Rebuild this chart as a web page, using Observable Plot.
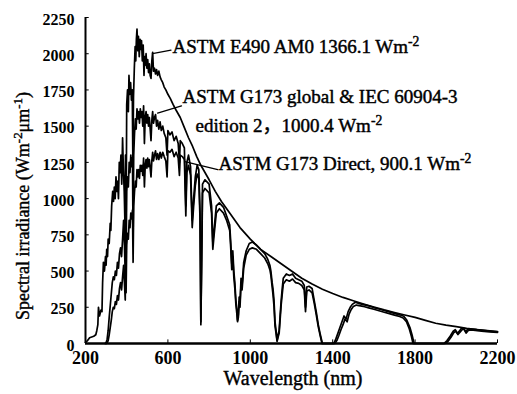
<!DOCTYPE html>
<html><head><meta charset="utf-8">
<script src="https://cdn.jsdelivr.net/npm/d3@7"></script>
<script src="https://cdn.jsdelivr.net/npm/@observablehq/plot@0.6"></script>
<style>html,body{margin:0;padding:0;background:#fff} svg{display:block}</style>
</head><body><div id="chart"></div>
<script>
// ---- data (wavelength nm, spectral irradiance W m^-2 um^-1) ----
const am0 = [[200,8],[210,20],[220,40],[230,45],[240,50],[250,60],[255,90],[260,130],[263,250],[268,190],[275,230],[280,220],[283,420],[287,560],[292,500],[297,600],[300,540],[303,650],[307,600],[310,720],[315,690],[320,830],[323,780],[327,950],[332,1050],[336,980],[340,1080],[344,1000],[348,1150],[352,1050],[356,1120],[360,1000],[364,1250],[368,1180],[372,1300],[376,1100],[380,1420],[384,1200],[388,1050],[392,800],[394,1300],[397,750],[400,1650],[404,1750],[408,1600],[411,1850],[415,1720],[419,1800],[423,1680],[427,1750],[430,1250],[433,1700],[437,1900],[441,2050],[444,1950],[447,2100],[450,2170],[454,2020],[457,2120],[461,1980],[465,2100],[468,2030],[472,2090],[476,1950],[480,2060],[484,1850],[487,1980],[490,1920],[494,2000],[498,1900],[502,1960],[506,1870],[510,1930],[514,1850],[518,1830],[522,1950],[526,2010],[530,1880],[535,1900],[540,1860],[545,1890],[550,1850],[556,1880],[562,1840],[568,1820],[575,1800],[582,1770],[590,1750],[600,1720],[612,1690],[625,1650],[640,1610],[660,1560],[680,1490],[700,1420],[720,1360],[740,1290],[760,1230],[780,1180],[800,1130],[830,1050],[860,980],[900,900],[950,800],[1000,720],[1050,650],[1100,600],[1150,550],[1200,500],[1250,450],[1300,410],[1350,375],[1400,345],[1450,318],[1500,295],[1550,273],[1600,252],[1650,232],[1700,214],[1750,197],[1800,180],[1850,160],[1900,140],[1950,127],[2000,116],[2050,105],[2100,96],[2150,89],[2200,83]];

const g173Global = [[295,0],[300,5],[305,30],[310,90],[315,180],[320,260],[325,340],[330,420],[335,460],[340,440],[345,500],[350,470],[355,560],[360,520],[365,620],[370,660],[375,600],[380,720],[385,850],[389,680],[393,480],[395,900],[397,560],[400,1050],[404,1150],[408,1080],[412,1250],[416,1180],[420,1300],[424,1220],[428,1280],[431,700],[434,1300],[438,1450],[442,1550],[446,1480],[450,1620],[454,1550],[458,1600],[462,1520],[466,1620],[470,1560],[474,1600],[478,1500],[482,1640],[486,1380],[490,1560],[494,1600],[498,1520],[502,1580],[506,1500],[510,1560],[514,1480],[518,1400],[522,1540],[526,1600],[530,1520],[535,1560],[540,1580],[545,1500],[550,1540],[556,1480],[562,1530],[568,1470],[575,1500],[582,1450],[590,1420],[596,1300],[600,1470],[610,1440],[620,1460],[630,1400],[640,1430],[650,1380],[656,1250],[660,1400],[670,1380],[680,1350],[687,950],[692,1250],[700,1300],[710,1220],[718,850],[725,1000],[733,1150],[742,1230],[750,1200],[756,900],[760,150],[764,600],[768,1100],[780,1130],[800,1100],[812,950],[818,700],[825,800],[835,950],[850,970],[870,940],[885,880],[900,820],[905,700],[910,550],[915,640],[920,500],[925,420],[930,300],[935,230],[938,160],[942,200],[946,320],[950,280],[955,450],[960,400],[968,560],[980,640],[995,690],[1010,700],[1030,680],[1050,650],[1070,620],[1085,580],[1095,540],[1100,500],[1106,420],[1110,380],[1115,300],[1120,150],[1125,90],[1130,20],[1135,60],[1140,90],[1145,200],[1150,300],[1155,380],[1160,450],[1175,480],[1190,470],[1205,480],[1220,450],[1235,440],[1250,430],[1262,400],[1268,250],[1274,390],[1285,395],[1300,380],[1310,300],[1320,220],[1330,130],[1340,60],[1350,0],[1405,0],[1415,30],[1425,70],[1435,110],[1445,150],[1455,190],[1465,170],[1475,220],[1485,250],[1495,270],[1510,285],[1530,275],[1550,268],[1575,260],[1600,248],[1625,238],[1650,228],[1675,218],[1700,208],[1725,198],[1745,188],[1760,160],[1775,110],[1785,60],[1795,0],[1940,0],[1955,20],[1970,50],[1985,85],[1995,95],[2005,70],[2015,85],[2025,105],[2035,108],[2045,80],[2055,98],[2070,100],[2090,97],[2120,92],[2160,86],[2200,80]];

const g173Direct = [[300,0],[305,5],[310,20],[315,60],[320,110],[325,160],[330,220],[335,250],[340,240],[345,290],[350,270],[355,330],[360,300],[365,380],[370,420],[375,370],[380,460],[385,540],[389,420],[393,300],[395,580],[397,350],[400,680],[404,760],[408,720],[412,850],[416,800],[420,900],[424,860],[428,920],[431,560],[434,950],[438,1050],[442,1120],[446,1080],[450,1200],[454,1150],[458,1200],[462,1140],[466,1230],[470,1190],[474,1230],[478,1160],[482,1280],[486,1080],[490,1230],[494,1270],[498,1210],[502,1280],[506,1220],[510,1270],[514,1210],[518,1150],[522,1260],[526,1320],[530,1260],[535,1300],[540,1330],[545,1270],[550,1310],[556,1270],[562,1320],[568,1280],[575,1320],[582,1290],[590,1260],[596,1150],[600,1330],[610,1320],[620,1340],[630,1290],[640,1320],[650,1280],[656,1160],[660,1300],[670,1290],[680,1270],[687,880],[692,1180],[700,1230],[710,1160],[718,800],[725,950],[733,1090],[742,1170],[750,1140],[756,850],[760,130],[764,550],[768,1040],[780,1070],[800,1040],[812,900],[818,650],[825,760],[835,900],[850,930],[870,900],[885,850],[900,780],[905,660],[910,510],[915,600],[920,460],[925,380],[930,270],[935,200],[938,150],[942,180],[946,290],[950,250],[955,410],[960,370],[968,520],[980,610],[995,650],[1010,660],[1030,650],[1050,620],[1070,590],[1085,550],[1095,510],[1100,470],[1106,390],[1110,340],[1115,260],[1120,120],[1125,70],[1130,15],[1135,45],[1140,70],[1145,170],[1150,270],[1155,340],[1160,410],[1175,440],[1190,430],[1205,445],[1220,420],[1235,415],[1250,400],[1262,370],[1268,220],[1274,360],[1285,370],[1300,350],[1310,280],[1320,200],[1330,115],[1340,50],[1348,0],[1410,0],[1420,20],[1430,55],[1440,95],[1450,130],[1460,170],[1470,150],[1480,205],[1490,235],[1500,255],[1515,265],[1535,260],[1555,254],[1575,246],[1600,236],[1625,226],[1650,216],[1675,206],[1700,196],[1725,186],[1742,176],[1758,150],[1772,100],[1782,50],[1790,0],[1945,0],[1960,15],[1975,45],[1988,75],[1998,85],[2008,62],[2018,78],[2028,95],[2038,100],[2048,72],[2058,90],[2072,94],[2092,90],[2122,85],[2162,80],[2200,76]];

const xTicks = [200, 600, 1000, 1400, 1800, 2200];
const yTicks = [0, 250, 500, 750, 1000, 1250, 1500, 1750, 2000, 2250];
const seriesLabels = [
  "ASTM E490 AM0 1366.1 Wm^{-2}",
  "ASTM G173 global & IEC 60904-3",
  "edition 2\uFF0C1000.4 Wm^{-2}",
  "ASTM G173 Direct, 900.1 Wm^{-2}"
];
const xTitle = "Wavelength (nm)";
const yTitle = "Spectral irradiance (Wm^{-2}\u03BCm^{-1})";

// ---- chart ----
const toXY = arr => arr.map(([x, y]) => ({x, y}));
const labelData = [
  {x: 622, y: 2050, t: seriesLabels[0]},
  {x: 671, y: 1700, t: seriesLabels[1]},
  {x: 734, y: 1505, t: seriesLabels[2]},
  {x: 846, y: 1240, t: seriesLabels[3]}
];
const leaders = [
  [{x: 525, y: 2000}, {x: 615, y: 2025}],
  [{x: 550, y: 1590}, {x: 666, y: 1640}],
  [{x: 682, y: 1255}, {x: 842, y: 1200}]
];

const svg = Plot.plot({
  width: 517, height: 394,
  marginLeft: 85, marginRight: 20, marginTop: 17, marginBottom: 51,
  style: {fontFamily: "'Liberation Serif', serif", background: "#fff", color: "#000"},
  x: {domain: [200, 2200], label: null},
  y: {domain: [0, 2250], label: null},
  marks: [
    Plot.line(toXY(am0), {x: "x", y: "y", stroke: "#000", strokeWidth: 1.7}),
    Plot.line(toXY(g173Global), {x: "x", y: "y", stroke: "#000", strokeWidth: 1.7}),
    Plot.line(toXY(g173Direct), {x: "x", y: "y", stroke: "#000", strokeWidth: 1.7}),
    ...leaders.map(l => Plot.line(l, {x: "x", y: "y", stroke: "#000", strokeWidth: 1.3})),
    Plot.ruleX([200], {y1: 0, y2: 2250, stroke: "#000", strokeWidth: 2}),
    Plot.ruleY([0], {x1: 200, x2: 2200, stroke: "#000", strokeWidth: 2.4}),
    Plot.ruleY(yTicks, {x1: 200, x2: 218, stroke: "#000", strokeWidth: 1}),
    Plot.ruleX(xTicks, {y1: 0, y2: 25, stroke: "#000", strokeWidth: 1}),
    Plot.axisY({ticks: yTicks, tickSize: 0, tickPadding: 11, tickFormat: d => String(d), fontSize: 16, fontWeight: "bold", dy: 2, label: null}),
    Plot.axisX({ticks: xTicks, tickSize: 0, tickPadding: 8, tickFormat: d => String(d), fontSize: 18, fontWeight: "bold", label: null}),
    Plot.text(labelData, {x: "x", y: "y", text: "t", textAnchor: "start", fontSize: 19, fontFamily: "'Liberation Serif', 'Noto Sans CJK SC', serif", fill: "#000", stroke: "#000", strokeWidth: 0.45})
  ]
});

const ns = "http://www.w3.org/2000/svg";
function applySup(el) {
  const s = el.textContent;
  if (!s.includes("^{")) return;
  const parts = s.split(/\^\{([^}]*)\}/);
  el.textContent = "";
  parts.forEach((p, i) => {
    if (!p) return;
    const t = document.createElementNS(ns, "tspan");
    if (i % 2) { t.setAttribute("baseline-shift", "super"); t.setAttribute("font-size", "0.72em"); }
    t.textContent = p;
    el.appendChild(t);
  });
}
const root = d3.select(svg);
root.append("text")
  .attr("transform", "translate(29,206) rotate(-90)")
  .attr("text-anchor", "middle")
  .attr("font-size", 18)
  .attr("fill", "#000").attr("stroke", "#000").attr("stroke-width", 0.4)
  .text(yTitle);
root.append("text")
  .attr("x", 293).attr("y", 385)
  .attr("text-anchor", "middle")
  .attr("font-size", 20)
  .attr("fill", "#000").attr("stroke", "#000").attr("stroke-width", 0.4)
  .text(xTitle);
svg.querySelectorAll("text").forEach(applySup);
document.getElementById("chart").appendChild(svg);
</script>
</body></html>
